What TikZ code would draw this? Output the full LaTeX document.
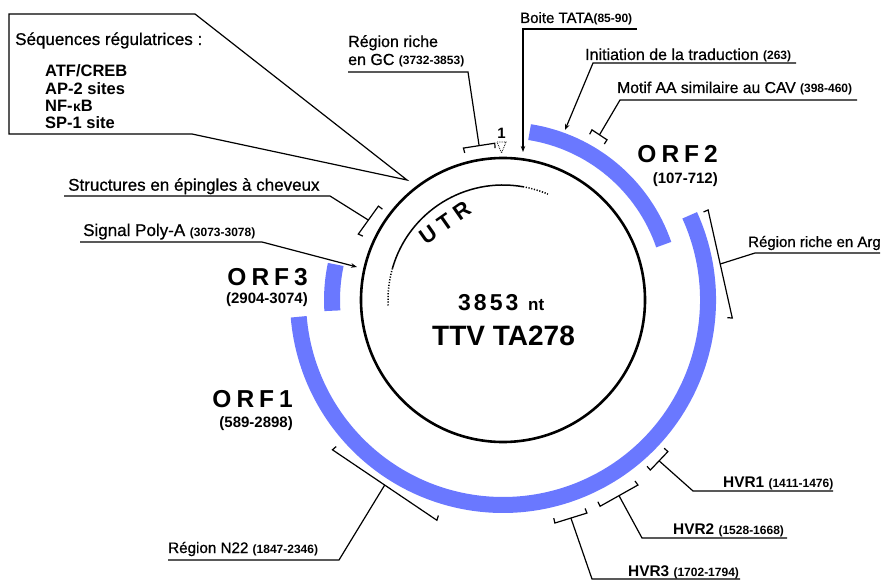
\documentclass[tikz,border=0pt]{standalone}
\usepackage{fontspec}
\setmainfont{Liberation Sans}
\newfontfamily\semi{Liberation Sans}[FakeBold=0.7]
\usetikzlibrary{calc,arrows.meta}
\definecolor{orfblue}{RGB}{106,120,255}
\newcommand{\fs}[1]{\fontsize{#1}{#1}\selectfont}
\newcommand{\nm}[1]{{\normalfont\bfseries\fs{12}#1}}
\newcommand{\brkt}[5]{%
  \coordinate (#1a) at ($(C)+(#2:#3)$);
  \coordinate (#1b) at ($(C)+(#4:#5)$);
  \coordinate (#1m) at ($(#1a)!0.5!(#1b)$);
  \draw[brk] ($(#1a)!5pt!(C)$) -- (#1a) -- (#1b) -- ($(#1b)!5pt!(C)$);
}
\begin{document}
\begin{tikzpicture}[x=1pt,y=-1pt,
  lbl/.style={inner sep=0pt, anchor=base west, font=\semi\fs{16}},
  orflbl/.style={inner sep=0pt, anchor=base east, font=\bfseries\fs{24.5}},
  orfnum/.style={inner sep=0pt, anchor=base east, font=\bfseries\fs{15}},
  hvr/.style={inner sep=0pt, anchor=base west, font=\bfseries\fs{15.4}},
  lead/.style={line width=1.2pt, line join=miter},
  brk/.style={line width=1.2pt},
  tipped/.style={-{Stealth[length=6pt,width=4.5pt]}},
  orf/.style={draw=orfblue, line width=16pt},
  utrl/.style={inner sep=0pt, anchor=center, font=\bfseries\fs{22}}
]
\useasboundingbox (0,0) rectangle (891,580);
\coordinate (C) at (503,300);

% ORF rings
\draw[orf] ($(C)+(-81:170)$) arc[start angle=-81, end angle=-19, radius=170];
\draw[orf] ($(C)+(-24.4:205)$) arc[start angle=-24.4, end angle=175.3, radius=205];
\draw[orf] ($(C)+(-183.6:171)$) arc[start angle=-183.6, end angle=-168, radius=171];

% genome circle
\draw[line width=2.6pt] (C) circle[radius=142];

% UTR arc
\draw[line width=1.5pt] ($(C)+(-164:115)$) arc[start angle=-164, end angle=-80, radius=115];
\draw[line width=1.5pt, dash pattern=on 1.2pt off 1.6pt] ($(C)+(-80:115)$) arc[start angle=-80, end angle=-67, radius=115];
\draw[line width=1.5pt, dash pattern=on 1.2pt off 1.6pt] ($(C)+(-164:115)$) arc[start angle=-164, end angle=-183.5, radius=115];
\node[utrl, rotate=35] (utr) at (445,223) {U\kern6pt T\kern6pt R};

% centre text
\node[inner sep=0pt, anchor=base west, font=\bfseries\fs{23}] (len) at (458,310) {3\kern3pt 8\kern3pt 5\kern3pt 3};
\node[inner sep=0pt, anchor=base west, font=\bfseries\fs{17}] (nt) at (528,310) {nt};
\node[inner sep=0pt, anchor=base, font=\bfseries\fs{28}] (ttv) at (503.5,345) {TTV TA278};

% position 1
\node[inner sep=0pt, anchor=base, font=\bfseries\fs{15}] (one) at (501.5,139) {1};
\draw[line width=0.8pt, densely dotted] (497,142) -- (506,142) -- (501.5,153) -- cycle;

% callout
\coordinate (calltip) at (407,180);
\draw[line width=1.2pt, line join=miter] (9,14) -- (195,14) -- (calltip) -- (192,134) -- (9,134) -- cycle;
\node[lbl, font=\semi\fs{17}] (seq) at (15,45) {Séquences régulatrices :};
\node[lbl, font=\bfseries\fs{16.5}] (atf) at (45,77) {ATF/CREB};
\node[lbl, font=\bfseries\fs{16.5}] (ap2) at (45,94.5) {AP-2 sites};
\node[lbl, font=\bfseries\fs{16.5}] (nfkb) at (45,111.5) {NF-\kern0.5pt{\fs{14}κ}B};
\node[lbl, font=\bfseries\fs{16.5}] (sp1) at (45,128.5) {SP-1 site};

% brackets
\brkt{gc}{-104.6}{157}{-93}{157}
\brkt{st}{-143}{156}{-155.5}{159}
\brkt{mo}{-62.4}{192}{-57}{191}
\brkt{arg}{-23.7}{224}{4.5}{230}
\brkt{ntt}{138.7}{227}{106.7}{230}
\brkt{hA}{49.1}{225}{42.6}{224}
\brkt{hB}{64.8}{228}{53.9}{229}
\brkt{hC}{76.9}{229}{68.5}{229}

% labels
\node[lbl] (gc1) at (348,47) {Région riche};
\node[lbl] (gc2) at (348,65) {en GC \nm{(3732-3853)}};
\node[lbl, font=\semi\fs{15}] (tata) at (520,23) {Boite TATA\nm{(85-90)}};
\node[lbl] (init) at (585,60) {Initiation de la traduction \nm{(263)}};
\node[lbl, font=\semi\fs{15.7}] (motif) at (617,93) {Motif AA similaire au CAV \nm{(398-460)}};
\node[lbl, font=\semi\fs{15}] (argl) at (748,247) {Région riche en Arg};
\node[lbl, font=\semi\fs{17}] (struct) at (68,190.7) {Structures en épingles à cheveux};
\node[lbl, font=\semi\fs{17}] (polya) at (83,236) {Signal Poly-A \nm{(3073-3078)}};
\node[lbl, font=\semi\fs{15.2}] (n22) at (168,553) {Région N22 \nm{(1847-2346)}};
\node[hvr] (hvr1) at (723,487) {HVR1 \nm{(1411-1476)}};
\node[hvr] (hvr2) at (673,534) {HVR2 \nm{(1528-1668)}};
\node[hvr] (hvr3) at (628,576) {HVR3 \nm{(1702-1794)}};

% ORF labels
\node[orflbl] (orf2) at (718,163) {O\kern5pt R\kern5pt F\kern5pt 2};
\node[orfnum] (orf2n) at (718,184) {(107-712)};
\node[orflbl] (orf3) at (308,285) {O\kern5pt R\kern5pt F\kern5pt 3};
\node[orfnum] (orf3n) at (308,303) {(2904-3074)};
\node[orflbl] (orf1) at (293,407) {O\kern5pt R\kern5pt F\kern5pt 1};
\node[orfnum] (orf1n) at (293,427) {(589-2898)};

% leaders
\draw[lead] (348,72) -- (468,72) -- (gcm);
\coordinate (tatatip) at (523,152);
\draw[lead, tipped] (637,29) -- (523,29) -- (tatatip);
\coordinate (inittip) at (565,130);
\draw[lead, tipped] (796,63) -- (593,63) -- (inittip);
\draw[lead] (857,100) -- (620,100) -- (mom);
\draw[lead] (880,253) -- (755,253) -- (argm);
\draw[lead] (64,196) -- (330,196) -- (stm);
\coordinate (polytip) at (357,267);
\draw[lead, tipped] (80,242) -- (262,242) -- (polytip);
\draw[lead] (168,560) -- (339,560) -- (nttm);
\draw[lead] (833,491) -- (693,491) -- (hAm);
\draw[lead] (787,538) -- (642,538) -- (hBm);
\draw[lead] (740,579) -- (592,579) -- (hCm);
\end{tikzpicture}
\end{document}
